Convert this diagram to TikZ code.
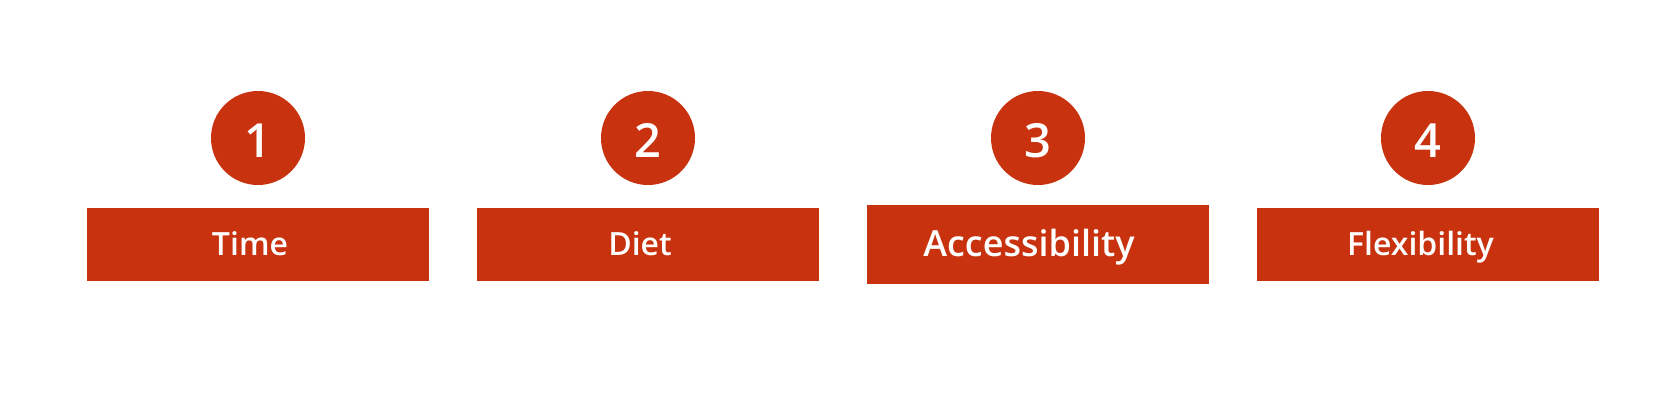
\documentclass[tikz,border=0pt]{standalone}
\usepackage{fontspec}
\setmainfont{Open Sans}
\newfontfamily\semib{Open Sans Semibold}
\definecolor{brand}{RGB}{200,50,14}
\begin{document}
\begin{tikzpicture}[x=1pt,y=-1pt,
  numcirc/.style={circle,fill=brand,draw=none,minimum size=94pt,inner sep=0pt,
    text=white,font=\semib\fontsize{47}{47}\selectfont,text height=38pt,text depth=0pt},
  labbox/.style={rectangle,fill=brand,draw=none,minimum width=342pt,minimum height=73pt,inner sep=0pt,
    text=white,font=\semib\fontsize{32}{32}\selectfont,text height=22pt,text depth=0pt},
  bigbox/.style={labbox,minimum height=79pt,font=\semib\fontsize{36}{36}\selectfont,text height=24.6pt}]
\useasboundingbox (0,0) rectangle (1663,407);
\node[numcirc] (c1) at (258,138) {1};
\node[numcirc] (c2) at (648,138) {2};
\node[numcirc] (c3) at (1038,138) {3};
\node[numcirc] (c4) at (1428,138) {4};
\node[labbox] (b1) at (258,244.5) {Time\hspace*{16pt}};
\node[labbox] (b2) at (648,244.5) {Diet\hspace*{16pt}};
\node[bigbox] (b3) at (1038,244.5) {Accessibility\hspace*{18pt}};
\node[labbox] (b4) at (1428,244.5) {Flexibility\hspace*{15pt}};
\end{tikzpicture}
\end{document}
